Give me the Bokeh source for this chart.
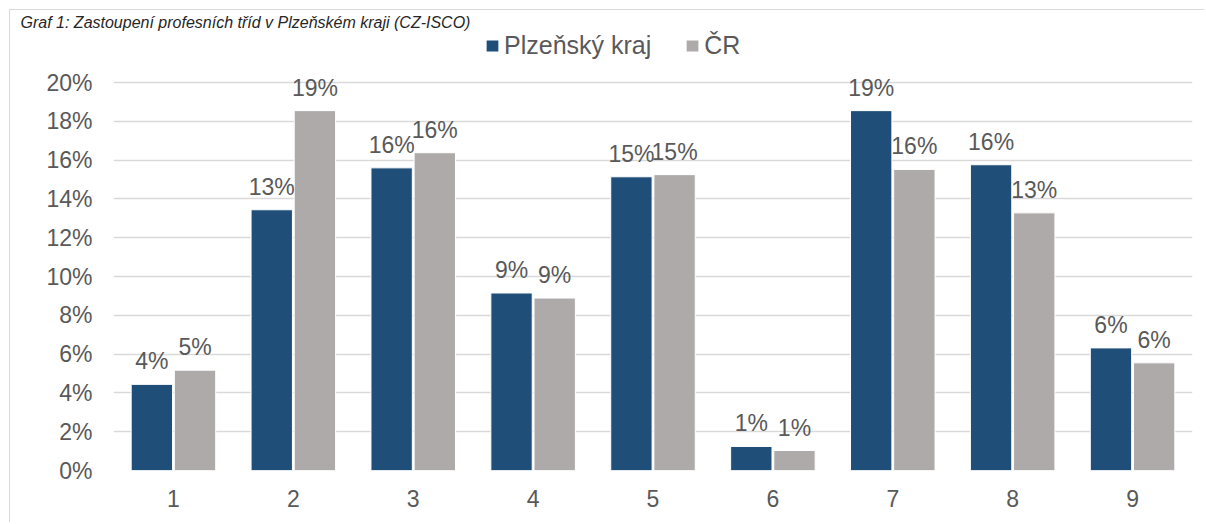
from bokeh.plotting import figure
from bokeh.models import (ColumnDataSource, FactorRange, Range1d, FixedTicker,
                          NumeralTickFormatter, LabelSet, Legend, LegendItem)
from bokeh.core.properties import value
from bokeh.transform import dodge
from bokeh.embed import file_html
from bokeh.resources import INLINE

# ---- data ----
categories = ["1", "2", "3", "4", "5", "6", "7", "8", "9"]
plzensky_kraj = [0.0444, 0.1344, 0.1560, 0.0915, 0.1514, 0.0124, 0.1855, 0.1576, 0.0632]
cr = [0.0517, 0.1855, 0.1638, 0.0889, 0.1525, 0.0103, 0.1552, 0.1328, 0.0555]
series_names = ["Plzeňský kraj", "ČR"]
y_ticks = [0.0, 0.02, 0.04, 0.06, 0.08, 0.10, 0.12, 0.14, 0.16, 0.18, 0.20]
title_text = "Graf 1: Zastoupení profesních tříd v Plzeňském kraji (CZ-ISCO)"

# ---- style ----
C_PLZ = "#1F4E79"
C_CR = "#AEAAAA"
TXT = "#595959"
GRID = "#D9D9D9"
FONT = "Liberation Sans"

# canvas starts at page (10.5, 10.5): 9px margin + 1.5px chart border
W, H = 1195, 513
F_LEFT, F_RIGHT, F_TOP, F_BOTTOM = 103, 1182, 20, 460   # canvas px
PX_PER_UNIT = 1940.0

src = ColumnDataSource(dict(
    cat=categories,
    plz=plzensky_kraj,
    cr=cr,
    plz_lbl=[f"{round(v * 100)}%" for v in plzensky_kraj],
    cr_lbl=[f"{round(v * 100)}%" for v in cr],
))

p = figure(x_range=FactorRange(*categories),
           y_range=Range1d(0, (F_BOTTOM - F_TOP) / PX_PER_UNIT),
           width=W, height=H, output_backend="svg", toolbar_location=None,
           min_border_left=F_LEFT, min_border_right=W - F_RIGHT,
           min_border_top=F_TOP, min_border_bottom=H - F_BOTTOM)
p.styles = {"margin-top": "9px", "margin-left": "9px",
            "border-top": "1.5px solid #D9D9D9", "border-left": "1.5px solid #D9D9D9"}
p.outline_line_color = None
p.background_fill_color = "white"
p.border_fill_color = "white"

# title (in the reference it is cut off by the top of the page)
p.title.text = title_text
p.title.text_font = FONT
p.title.text_font_style = "italic"
p.title.text_font_size = "16px"
p.title.text_color = "#262626"
p.title.align = "left"
p.title.offset = -93
p.title.standoff = 0

off = 0.18
bw = 0.345
r1 = p.vbar(x=dodge("cat", -off, range=p.x_range), top="plz", width=bw, source=src,
            fill_color=C_PLZ, line_color="white", line_width=1)
r2 = p.vbar(x=dodge("cat", off, range=p.x_range), top="cr", width=bw, source=src,
            fill_color=C_CR, line_color="white", line_width=1)

lbl_kw = dict(text_font=value(FONT), text_font_size="23px", text_color=TXT,
              text_align="center", text_baseline="alphabetic", y_offset=15)
p.add_layout(LabelSet(x=dodge("cat", -off, range=p.x_range), y="plz", text="plz_lbl",
                      source=src, **lbl_kw))
p.add_layout(LabelSet(x=dodge("cat", off, range=p.x_range), y="cr", text="cr_lbl",
                      source=src, **lbl_kw))

# axes
p.yaxis.ticker = FixedTicker(ticks=y_ticks)
p.yaxis.formatter = NumeralTickFormatter(format="0%")
for ax in (p.xaxis[0], p.yaxis[0]):
    ax.axis_line_color = None
    ax.major_tick_line_color = None
    ax.minor_tick_line_color = None
    ax.major_tick_out = 0
    ax.major_tick_in = 0
    ax.major_label_text_font = FONT
    ax.major_label_text_font_size = "23px"
    ax.major_label_text_color = TXT
p.yaxis.major_label_standoff = 21
p.xaxis.major_label_standoff = 19
p.xgrid.grid_line_color = None
p.ygrid.grid_line_color = GRID
p.ygrid.grid_line_width = 1.5
p.ygrid.ticker = FixedTicker(ticks=y_ticks)

# legend (inside the frame, above the 20 % line)
legend = Legend(items=[LegendItem(label=series_names[0], renderers=[r1]),
                       LegendItem(label=series_names[1], renderers=[r2])],
                orientation="horizontal", location=(371, 410),
                glyph_width=16, glyph_height=15, label_standoff=4, spacing=33,
                padding=0, margin=0, border_line_color=None,
                background_fill_alpha=0,
                label_text_font=FONT, label_text_font_size="25px",
                label_text_color=TXT)
p.add_layout(legend, "center")

open("out.html", "w").write(file_html(p, INLINE))
